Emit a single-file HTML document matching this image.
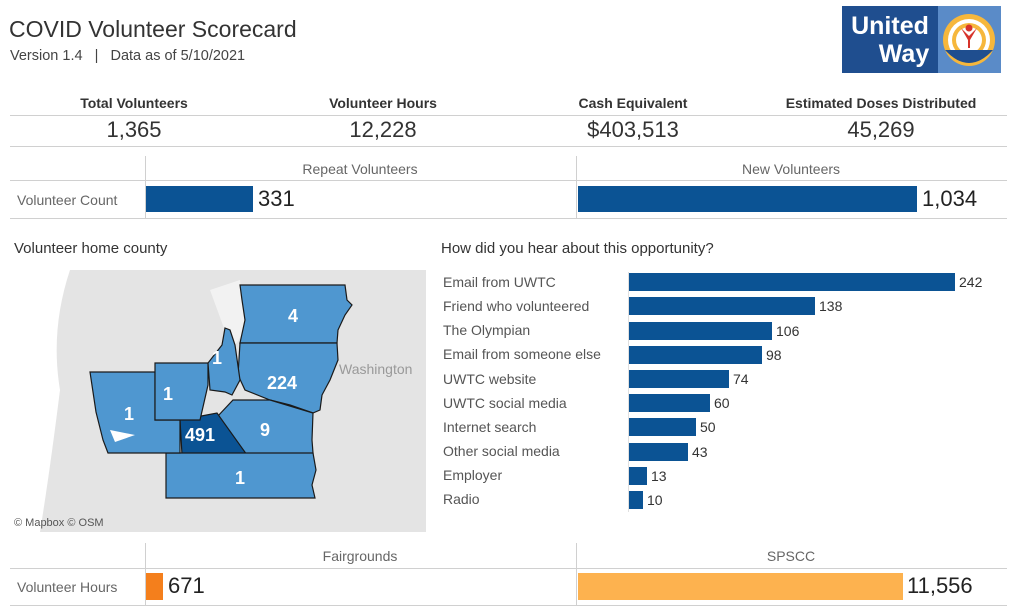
<!DOCTYPE html>
<html><head><meta charset="utf-8"><style>
body{margin:0;width:1024px;height:616px;background:#fff;font-family:"Liberation Sans",sans-serif;position:relative;overflow:hidden;color:#333}
.a{position:absolute;white-space:nowrap}
.hl{position:absolute;height:1px;background:#d0d0d0}
.vl{position:absolute;width:1px;background:#d0d0d0}
.c{transform:translateX(-50%)}
</style></head><body>
<div class="a" style="left:9px;top:16px;font-size:23px;color:#333">COVID Volunteer Scorecard</div>
<div class="a" style="left:10px;top:48px;font-size:14.5px;color:#444">Version 1.4 &nbsp;&nbsp;| &nbsp;&nbsp;Data as of 5/10/2021</div>

<svg class="a" style="left:842px;top:6px" width="160" height="68">
<rect x="0" y="0" width="96" height="67" fill="#1f4e8f"/>
<rect x="96" y="0" width="63" height="67" fill="#5a8bc8"/>
<text x="48" y="28" fill="#fff" font-family="Liberation Sans" font-weight="bold" font-size="25" text-anchor="middle">United</text>
<text x="62" y="56" fill="#fff" font-family="Liberation Sans" font-weight="bold" font-size="25" text-anchor="middle">Way</text>
<circle cx="127" cy="34" r="26" fill="#f6b73c"/>
<circle cx="127" cy="34" r="21" fill="#fff"/>
<circle cx="127" cy="34" r="17" fill="#f6b73c"/>
<circle cx="127" cy="34" r="13" fill="#fff"/>
<path d="M103 44 Q127 70 151 44 Z" fill="#1f4e8f"/>
<circle cx="127" cy="22" r="3.5" fill="#d7332b"/>
<path d="M119 22 L127 30 L135 22 L128 34 L128 42 L126 42 L126 34 Z" fill="#d7332b"/>
</svg>

<div class="a c" style="left:134px;top:95px;font-size:14px;font-weight:bold;color:#333">Total Volunteers</div>
<div class="a c" style="left:383px;top:95px;font-size:14px;font-weight:bold;color:#333">Volunteer Hours</div>
<div class="a c" style="left:633px;top:95px;font-size:14px;font-weight:bold;color:#333">Cash Equivalent</div>
<div class="a c" style="left:881px;top:95px;font-size:14px;font-weight:bold;color:#333">Estimated Doses Distributed</div>
<div class="hl" style="left:10px;top:115px;width:997px"></div>
<div class="a c" style="left:134px;top:117px;font-size:22px">1,365</div>
<div class="a c" style="left:383px;top:117px;font-size:22px">12,228</div>
<div class="a c" style="left:633px;top:117px;font-size:22px">$403,513</div>
<div class="a c" style="left:881px;top:117px;font-size:22px">45,269</div>
<div class="hl" style="left:10px;top:146px;width:997px"></div>

<div class="vl" style="left:145px;top:156px;height:62px"></div>
<div class="vl" style="left:576px;top:156px;height:62px"></div>
<div class="a c" style="left:360px;top:161px;font-size:14px;color:#666">Repeat Volunteers</div>
<div class="a c" style="left:791px;top:161px;font-size:14px;color:#666">New Volunteers</div>
<div class="hl" style="left:10px;top:180px;width:997px"></div>
<div class="a" style="left:17px;top:192px;font-size:14px;color:#666">Volunteer Count</div>
<div class="a" style="left:146px;top:186px;width:107px;height:26px;background:#0b5394"></div>
<div class="a" style="left:258px;top:186px;font-size:22px;color:#222">331</div>
<div class="a" style="left:578px;top:186px;width:339px;height:26px;background:#0b5394"></div>
<div class="a" style="left:922px;top:186px;font-size:22px;color:#222">1,034</div>
<div class="hl" style="left:10px;top:218px;width:997px"></div>

<div class="a" style="left:14px;top:240px;font-size:15px;color:#333">Volunteer home county</div>
<div class="a" style="left:441px;top:240px;font-size:15px;color:#333">How did you hear about this opportunity?</div>

<svg class="a" style="left:10px;top:270px" width="416" height="262">
<rect width="416" height="262" fill="#e4e4e4"/>
<path d="M0 0 L60 0 Q40 60 50 120 Q40 200 30 262 L0 262 Z" fill="#fff"/>
<path d="M200 20 L230 10 L235 60 L222 80 Z" fill="#f2f2f2"/>
<text x="329" y="104" font-family="Liberation Sans" font-size="14" fill="#999">Washington</text>
<g transform="translate(-10,-270)" stroke="#1a1a1a" stroke-width="1.2" fill="#4f97d0">
<path d="M240 285 L345 285 L347 300 L352 305 L345 315 L338 330 L337 343 L240 343 L245 320 L242 300 Z"/>
<path d="M240 343 L337 343 L338 360 L330 380 L322 395 L320 410 L313 413 L290 405 L270 400 L245 390 L238 375 Z"/>
<path d="M233 400 L270 400 L313 413 L312 440 L313 453 L280 458 L247 455 L217 417 Z"/>
<path d="M180 420 L217 413 L247 455 L182 455 Z" fill="#0b5394"/>
<path d="M166 453 L313 453 L316 470 L312 485 L315 498 L166 498 Z"/>
<path d="M90 372 L155 372 L155 420 L180 420 L180 453 L108 453 L103 440 L96 412 Z"/>
<path d="M155 363 L208 363 L208 385 L200 420 L155 420 Z"/>
<path d="M225 328 L230 330 L235 345 L240 380 L232 395 L225 392 L210 390 L208 363 L222 345 Z"/>
</g>
<path d="M100 160 L125 165 L105 172 Z" fill="#fff"/>
<g font-family="Liberation Sans" font-size="18" font-weight="bold" fill="#fff" text-anchor="middle">
<text x="283" y="52">4</text><text x="272" y="119">224</text><text x="255" y="166">9</text>
<text x="190" y="171">491</text><text x="230" y="214">1</text><text x="119" y="150">1</text>
<text x="158" y="130">1</text><text x="207" y="94">1</text>
</g>
<text x="4" y="256" font-family="Liberation Sans" font-size="11" fill="#555">© Mapbox  © OSM</text>
</svg>

<div class="vl" style="left:628px;top:272px;height:240px;background:#e0e0e0"></div>
<div class="a" style="left:443px;top:270px;font-size:14px;color:#555;line-height:24.15px">Email from UWTC<br>Friend who volunteered<br>The Olympian<br>Email from someone else<br>UWTC website<br>UWTC social media<br>Internet search<br>Other social media<br>Employer<br>Radio</div>
<div class="a" style="left:629px;top:273px;width:326px;height:18px;background:#0b5394"></div><div class="a" style="left:959px;top:274px;font-size:14px">242</div>
<div class="a" style="left:629px;top:297px;width:186px;height:18px;background:#0b5394"></div><div class="a" style="left:819px;top:298px;font-size:14px">138</div>
<div class="a" style="left:629px;top:322px;width:143px;height:18px;background:#0b5394"></div><div class="a" style="left:776px;top:323px;font-size:14px">106</div>
<div class="a" style="left:629px;top:346px;width:133px;height:18px;background:#0b5394"></div><div class="a" style="left:766px;top:347px;font-size:14px">98</div>
<div class="a" style="left:629px;top:370px;width:100px;height:18px;background:#0b5394"></div><div class="a" style="left:733px;top:371px;font-size:14px">74</div>
<div class="a" style="left:629px;top:394px;width:81px;height:18px;background:#0b5394"></div><div class="a" style="left:714px;top:395px;font-size:14px">60</div>
<div class="a" style="left:629px;top:418px;width:67px;height:18px;background:#0b5394"></div><div class="a" style="left:700px;top:419px;font-size:14px">50</div>
<div class="a" style="left:629px;top:443px;width:59px;height:18px;background:#0b5394"></div><div class="a" style="left:692px;top:444px;font-size:14px">43</div>
<div class="a" style="left:629px;top:467px;width:18px;height:18px;background:#0b5394"></div><div class="a" style="left:651px;top:468px;font-size:14px">13</div>
<div class="a" style="left:629px;top:491px;width:14px;height:18px;background:#0b5394"></div><div class="a" style="left:647px;top:492px;font-size:14px">10</div>

<div class="vl" style="left:145px;top:543px;height:62px"></div>
<div class="vl" style="left:576px;top:543px;height:62px"></div>
<div class="a c" style="left:360px;top:548px;font-size:14px;color:#666">Fairgrounds</div>
<div class="a c" style="left:791px;top:548px;font-size:14px;color:#666">SPSCC</div>
<div class="hl" style="left:10px;top:568px;width:997px"></div>
<div class="a" style="left:17px;top:579px;font-size:14px;color:#666">Volunteer Hours</div>
<div class="a" style="left:146px;top:573px;width:17px;height:27px;background:#f47f1c"></div>
<div class="a" style="left:168px;top:573px;font-size:22px;color:#222">671</div>
<div class="a" style="left:578px;top:573px;width:325px;height:27px;background:#fdb24f"></div>
<div class="a" style="left:907px;top:573px;font-size:22px;color:#222">11,556</div>
<div class="hl" style="left:10px;top:605px;width:997px"></div>
</body></html>
